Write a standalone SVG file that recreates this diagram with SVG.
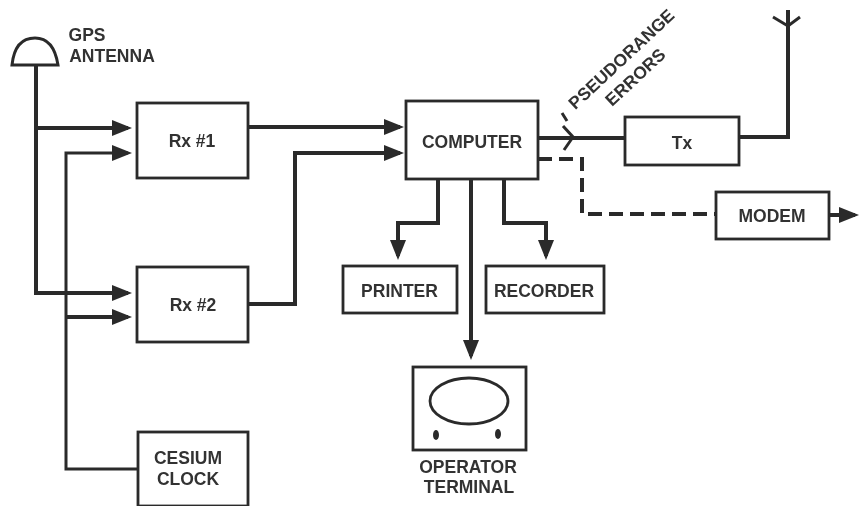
<svg xmlns="http://www.w3.org/2000/svg" width="859" height="506" viewBox="0 0 859 506">
<defs>
<marker id="arrow" markerUnits="userSpaceOnUse" markerWidth="22" markerHeight="18" refX="16" refY="8" orient="auto"><path d="M0 0L20 8L0 16Z" fill="#2b2b2b"/></marker>
<filter id="soft" x="-2%" y="-2%" width="104%" height="104%"><feGaussianBlur stdDeviation="0.6"/></filter>
</defs>
<style>
.box{fill:none;stroke:#2b2b2b;stroke-width:2.8}
.wire{fill:none;stroke:#2b2b2b;stroke-width:4}
.thin{fill:none;stroke:#2b2b2b;stroke-width:3}
.arr{marker-end:url(#arrow)}
text{font-family:"Liberation Sans",Arial,sans-serif;font-weight:700;font-size:17.5px;fill:#333;text-anchor:middle}
</style>
<rect width="859" height="506" fill="#fff"/>
<g filter="url(#soft)">
<g id="connectors">
<path class="wire arr" d="M36 66V293H128"/>
<path class="wire arr" d="M36 128H128"/>
<path class="thin arr" d="M138 469H66V153H128"/>
<path class="wire arr" d="M66 317H128"/>
<path class="wire arr" d="M248 127H400"/>
<path class="wire arr" d="M248 304H295V153H400"/>
<path class="wire" d="M538 138H625"/>
<path class="thin" d="M563 126L573 137L564 150M562 113L567 121"/>
<path class="wire" d="M739 137H788V10"/>
<path class="thin" d="M773 17L788 26L800 17"/>
<path class="wire" stroke-dasharray="14 7" d="M538 159H582V214H716"/>
<path class="wire arr" d="M829 215H855"/>
<path class="wire arr" d="M438 179V223H398V256"/>
<path class="wire arr" d="M504 179V223H546V256"/>
<path class="wire arr" d="M471 179V356"/>
</g>
<g id="gps-antenna">
<path class="thin" d="M12 65H58C55 46 47 38 35 38C23 38 14 46 12 65Z"/>
<text x="87" y="41">GPS</text>
<text x="112" y="62">ANTENNA</text>
</g>
<g id="rx1"><rect class="box" x="137" y="103" width="111" height="75"/><text x="192" y="147">Rx #1</text></g>
<g id="rx2"><rect class="box" x="137" y="267" width="111" height="75"/><text x="193" y="311">Rx #2</text></g>
<g id="cesium-clock"><rect class="box" x="138" y="432" width="110" height="74"/><text x="188" y="464">CESIUM</text><text x="188" y="485">CLOCK</text></g>
<g id="computer"><rect class="box" x="406" y="101" width="132" height="78"/><text x="472" y="148">COMPUTER</text></g>
<g id="tx"><rect class="box" x="625" y="117" width="114" height="48"/><text x="682" y="149">Tx</text></g>
<g id="modem"><rect class="box" x="716" y="192" width="113" height="47"/><text x="772" y="222">MODEM</text></g>
<g id="printer"><rect class="box" x="343" y="266" width="114" height="47"/><text x="399.5" y="297">PRINTER</text></g>
<g id="recorder"><rect class="box" x="486" y="266" width="118" height="47"/><text x="544" y="297">RECORDER</text></g>
<g id="operator-terminal">
<rect class="box" x="413" y="367" width="113" height="83"/>
<ellipse class="box" cx="469" cy="401" rx="39" ry="23"/>
<ellipse cx="436" cy="435" rx="3" ry="5" fill="#2b2b2b"/>
<ellipse cx="498" cy="434" rx="3" ry="5" fill="#2b2b2b"/>
<text x="468" y="473">OPERATOR</text>
<text x="469" y="493">TERMINAL</text>
</g>
<g id="pseudorange-label">
<text transform="translate(625.5,63.5) rotate(-43)">PSEUDORANGE</text>
<text transform="translate(639.5,81.5) rotate(-43)">ERRORS</text>
</g>
</g>
</svg>
